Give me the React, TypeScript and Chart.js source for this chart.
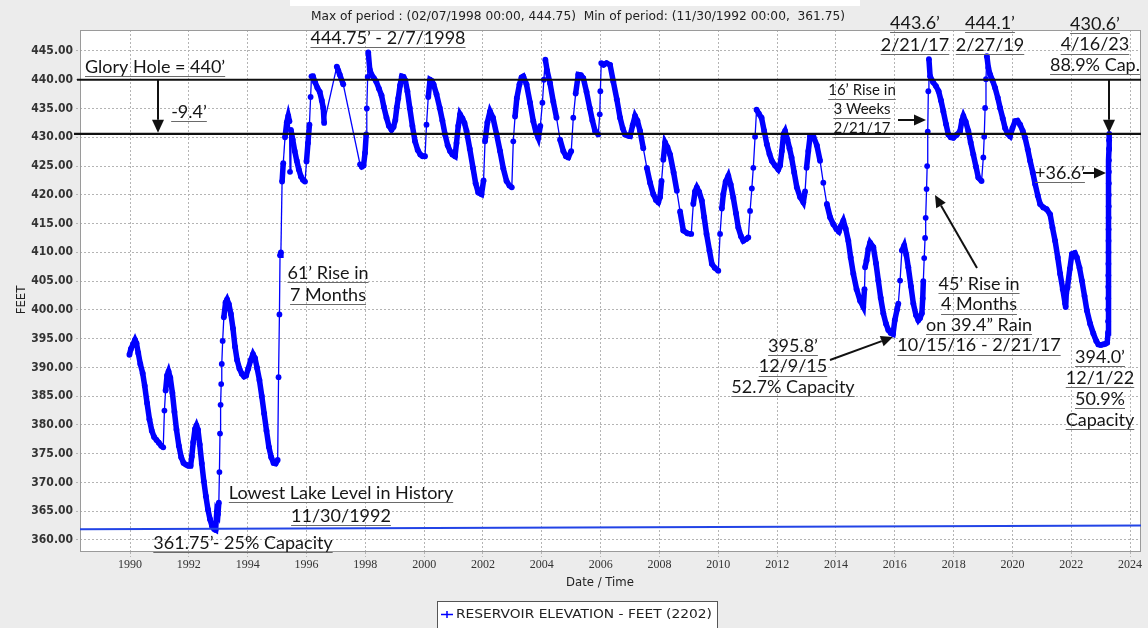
import { useEffect, useRef } from 'react';
import { Chart, registerables } from 'chart.js';

Chart.register(...registerables);

// ---------------- DATA (year as decimal, elevation in feet) ----------------
const elev1990to1994: [number, number][] = [
  [1989.98, 392.2], [1990.03, 393.2], [1990.1, 394.0], [1990.17, 394.8], [1990.22, 394.2], [1990.28, 392.5],
  [1990.35, 390.6], [1990.43, 389.0], [1990.5, 386.8], [1990.58, 383.8], [1990.66, 381.0], [1990.74, 379.0],
  [1990.82, 377.9], [1990.9, 377.4], [1990.98, 376.9], [1991.06, 376.4], [1991.13, 376.1], [1991.17, 382.5],
  [1991.21, 386.0], [1991.26, 388.6], [1991.31, 389.3], [1991.37, 388.2], [1991.44, 385.6], [1991.51, 382.3],
  [1991.58, 379.2], [1991.66, 376.4], [1991.74, 374.4], [1991.82, 373.4], [1991.9, 373.1], [1991.98, 372.9],
  [1992.06, 372.9], [1992.1, 374.5], [1992.15, 377.0], [1992.21, 379.3], [1992.26, 379.9], [1992.31, 379.2],
  [1992.37, 376.6], [1992.44, 373.3], [1992.51, 370.2], [1992.58, 367.6], [1992.65, 365.3], [1992.72, 363.6],
  [1992.79, 362.4], [1992.86, 361.9], [1992.91, 361.75], [1992.95, 364.9], [1992.99, 364.5], [1993.02, 366.5],
  [1993.04, 371.8], [1993.06, 378.5], [1993.08, 383.5], [1993.1, 387.1], [1993.12, 390.6], [1993.15, 394.6],
  [1993.19, 398.7], [1993.25, 401.3], [1993.3, 401.8], [1993.36, 401.0], [1993.43, 399.3], [1993.5, 396.8],
  [1993.57, 393.6], [1993.64, 391.3], [1993.72, 389.8], [1993.8, 388.9], [1993.88, 388.4], [1993.95, 388.6],
  [1994.02, 389.8], [1994.1, 391.2], [1994.18, 392.3], [1994.25, 391.6], [1994.32, 389.9], [1994.4, 387.8],
  [1994.48, 385.0], [1994.56, 382.0], [1994.64, 379.0], [1994.72, 376.2], [1994.8, 374.4], [1994.88, 373.4],
  [1994.95, 373.3], [1995.02, 373.9],
];

const elev1995to1999: [number, number][] = [
  [1995.05, 388.3], [1995.08, 399.2], [1995.1, 409.5], [1995.13, 410.0], [1995.17, 422.3], [1995.21, 425.5],
  [1995.27, 430.0], [1995.33, 432.6], [1995.38, 433.7], [1995.42, 432.8], [1995.44, 424.0], [1995.47, 431.3],
  [1995.53, 429.6], [1995.6, 427.6], [1995.67, 425.9], [1995.74, 424.4], [1995.81, 423.2], [1995.88, 422.6],
  [1995.95, 422.3], [1996.0, 425.8], [1996.05, 429.0], [1996.1, 432.2], [1996.14, 437.0], [1996.17, 440.6],
  [1996.22, 440.6], [1996.29, 439.6], [1996.37, 438.6], [1996.45, 437.9], [1996.52, 436.4], [1996.57, 435.1],
  [1996.6, 432.5], [1997.03, 442.3], [1997.08, 441.6], [1997.13, 440.9], [1997.25, 439.2], [1997.82, 425.3],
  [1997.88, 424.9], [1997.94, 425.1], [1997.99, 427.3], [1998.03, 430.5], [1998.05, 435.0], [1998.08, 440.5],
  [1998.1, 444.75], [1998.15, 441.8], [1998.21, 440.9], [1998.29, 440.3], [1998.37, 439.7], [1998.46, 438.5],
  [1998.55, 437.3], [1998.63, 435.3], [1998.72, 433.4], [1998.8, 432.0], [1998.89, 431.3], [1998.96, 431.8],
  [1999.02, 433.0], [1999.07, 435.2], [1999.12, 436.8], [1999.18, 439.0], [1999.24, 440.6], [1999.3, 440.5],
  [1999.36, 439.9], [1999.43, 438.0], [1999.51, 435.1], [1999.6, 432.0], [1999.69, 429.3], [1999.78, 427.8],
  [1999.87, 427.0], [1999.95, 426.7], [2000.03, 426.7],
];

const elev2000to2004: [number, number][] = [
  [2000.08, 432.2], [2000.14, 437.0], [2000.2, 440.0], [2000.26, 439.8], [2000.32, 439.2], [2000.42, 437.5],
  [2000.53, 435.1], [2000.62, 432.9], [2000.71, 430.5], [2000.8, 428.6], [2000.88, 427.6], [2000.96, 427.0],
  [2001.05, 426.7], [2001.1, 429.0], [2001.16, 432.0], [2001.22, 434.0], [2001.3, 433.3], [2001.37, 432.5],
  [2001.44, 431.1], [2001.55, 428.0], [2001.66, 424.7], [2001.75, 422.0], [2001.84, 420.4], [2001.95, 420.1],
  [2002.02, 422.5], [2002.07, 429.3], [2002.15, 432.6], [2002.24, 434.5], [2002.34, 433.4], [2002.46, 430.6],
  [2002.58, 427.6], [2002.69, 424.6], [2002.8, 422.4], [2002.9, 421.6], [2002.98, 421.3], [2003.03, 429.3],
  [2003.09, 433.6], [2003.15, 436.8], [2003.24, 439.2], [2003.31, 440.4], [2003.37, 440.6], [2003.48, 439.2],
  [2003.6, 436.0], [2003.71, 432.8], [2003.8, 430.9], [2003.88, 429.9], [2003.95, 432.0], [2004.02, 436.0],
  [2004.07, 440.0], [2004.12, 443.5], [2004.18, 441.6], [2004.28, 439.4], [2004.39, 436.2], [2004.5, 433.4],
  [2004.62, 429.6], [2004.73, 427.6], [2004.82, 426.7], [2004.9, 426.5], [2005.0, 427.6],
];

const elev2005to2009: [number, number][] = [
  [2005.07, 433.4], [2005.15, 437.6], [2005.24, 440.9], [2005.33, 440.8], [2005.41, 440.3], [2005.52, 437.9],
  [2005.63, 435.1], [2005.72, 432.9], [2005.81, 431.1], [2005.92, 430.5], [2005.97, 434.0], [2005.99, 438.0],
  [2006.02, 442.9], [2006.1, 442.6], [2006.2, 442.9], [2006.32, 442.6], [2006.43, 439.7], [2006.55, 436.6],
  [2006.66, 433.4], [2006.75, 431.6], [2006.83, 430.5], [2006.92, 430.3], [2007.0, 430.2], [2007.09, 432.1],
  [2007.17, 433.7], [2007.25, 432.9], [2007.34, 431.1], [2007.45, 428.1], [2007.57, 424.7], [2007.68, 422.1],
  [2007.79, 420.1], [2007.88, 419.1], [2007.96, 418.7], [2008.02, 419.6], [2008.07, 422.4], [2008.13, 426.1],
  [2008.19, 429.1], [2008.27, 428.3], [2008.36, 427.0], [2008.48, 423.9], [2008.59, 420.7], [2008.7, 417.1],
  [2008.81, 413.8], [2008.95, 413.3], [2009.08, 413.2], [2009.15, 418.4], [2009.21, 420.6], [2009.27, 421.3],
  [2009.35, 420.5], [2009.44, 419.0], [2009.52, 416.1], [2009.6, 413.2], [2009.7, 410.3], [2009.78, 408.0],
  [2009.88, 407.3], [2010.0, 406.8],
];

const elev2010to2014: [number, number][] = [
  [2010.06, 413.2], [2010.12, 417.6], [2010.17, 420.1], [2010.25, 422.3], [2010.34, 423.3], [2010.42, 421.8],
  [2010.51, 419.5], [2010.6, 416.8], [2010.68, 414.3], [2010.77, 412.8], [2010.85, 412.0], [2010.95, 412.3],
  [2011.02, 412.6], [2011.08, 417.2], [2011.14, 421.1], [2011.19, 424.7], [2011.25, 430.1], [2011.3, 434.8],
  [2011.38, 434.1], [2011.47, 433.4], [2011.56, 431.1], [2011.65, 428.8], [2011.74, 427.1], [2011.82, 425.9],
  [2011.93, 425.1], [2012.04, 424.4], [2012.1, 425.1], [2012.16, 427.6], [2012.22, 430.6], [2012.27, 431.1],
  [2012.35, 429.6], [2012.42, 428.1], [2012.49, 426.5], [2012.58, 423.9], [2012.67, 421.3], [2012.78, 419.6],
  [2012.89, 418.7], [2012.95, 420.6], [2013.0, 424.7], [2013.06, 427.6], [2013.12, 430.2], [2013.23, 430.2],
  [2013.35, 428.6], [2013.46, 425.9], [2013.57, 422.1], [2013.69, 418.4], [2013.8, 416.1], [2013.91, 414.9],
  [2014.02, 414.0], [2014.1, 413.6], [2014.17, 414.6], [2014.25, 415.5], [2014.33, 414.1], [2014.42, 412.0],
  [2014.5, 409.1], [2014.59, 406.3], [2014.7, 403.6], [2014.82, 401.6], [2014.93, 400.5],
];

const elev2015to2019: [number, number][] = [
  [2014.97, 403.6], [2014.99, 407.4], [2015.04, 408.6], [2015.1, 410.6], [2015.16, 411.7], [2015.27, 410.9],
  [2015.36, 408.1], [2015.44, 405.1], [2015.52, 402.1], [2015.61, 399.4], [2015.7, 397.6], [2015.78, 396.5],
  [2015.86, 396.0], [2015.94, 395.8], [2016.0, 398.2], [2016.08, 400.1], [2016.12, 401.1], [2016.18, 405.1],
  [2016.24, 410.3], [2016.32, 411.2], [2016.39, 409.6], [2016.46, 407.4], [2016.55, 404.1], [2016.63, 401.1],
  [2016.72, 399.1], [2016.8, 398.2], [2016.86, 398.6], [2016.92, 399.4], [2016.95, 402.0], [2016.97, 405.0],
  [2017.0, 409.0], [2017.03, 412.5], [2017.05, 416.0], [2017.08, 421.0], [2017.1, 425.0], [2017.12, 431.0],
  [2017.14, 438.0], [2017.16, 443.6], [2017.2, 440.6], [2017.3, 439.6], [2017.4, 438.9], [2017.49, 438.0],
  [2017.57, 436.4], [2017.65, 434.5], [2017.74, 432.3], [2017.82, 430.5], [2017.9, 430.0], [2017.99, 429.9],
  [2018.1, 430.4], [2018.22, 431.1], [2018.28, 432.9], [2018.33, 433.7], [2018.41, 432.7], [2018.5, 431.1],
  [2018.58, 429.1], [2018.67, 427.0], [2018.76, 424.9], [2018.84, 423.0], [2018.95, 422.4], [2019.01, 426.5],
  [2019.04, 430.1], [2019.07, 435.1], [2019.1, 440.1], [2019.13, 444.1], [2019.18, 442.1], [2019.24, 440.9],
  [2019.32, 439.9], [2019.41, 438.6], [2019.5, 436.9], [2019.58, 435.1], [2019.67, 433.3], [2019.75, 431.6],
  [2019.84, 430.6], [2019.92, 430.2],
];

const elev2020to2023: [number, number][] = [
  [2020.0, 431.6], [2020.09, 432.8], [2020.17, 432.9], [2020.26, 432.2], [2020.35, 431.1], [2020.43, 429.9],
  [2020.52, 427.9], [2020.6, 425.9], [2020.69, 423.9], [2020.77, 421.9], [2020.86, 419.9], [2020.94, 418.4],
  [2021.05, 417.8], [2021.16, 417.5], [2021.28, 416.6], [2021.36, 414.3], [2021.45, 412.0], [2021.54, 409.1],
  [2021.62, 406.3], [2021.71, 403.6], [2021.79, 401.1], [2021.81, 400.5], [2021.83, 402.9], [2021.87, 403.9],
  [2021.95, 407.1], [2022.02, 409.7], [2022.12, 409.9], [2022.19, 409.1], [2022.28, 407.3], [2022.36, 405.1],
  [2022.45, 402.4], [2022.53, 399.9], [2022.64, 397.6], [2022.75, 395.9], [2022.85, 394.6], [2022.92, 394.0],
  [2023.0, 393.9], [2023.08, 394.0], [2023.16, 394.1], [2023.22, 394.3], [2023.25, 396.0], [2023.252, 398.0],
  [2023.254, 400.0], [2023.256, 402.0], [2023.258, 404.0], [2023.26, 406.0], [2023.262, 408.0], [2023.264, 410.0],
  [2023.266, 412.0], [2023.268, 414.0], [2023.27, 416.0], [2023.272, 418.0], [2023.274, 420.0], [2023.276, 422.0],
  [2023.278, 424.0], [2023.28, 426.0], [2023.283, 428.0], [2023.286, 429.5], [2023.29, 430.6],
];

const xTickYears = [1990, 1992, 1994, 1996, 1998, 2000, 2002, 2004, 2006, 2008, 2010, 2012, 2014, 2016, 2018, 2020, 2022, 2024];
const yTickFeet = [360, 365, 370, 375, 380, 385, 390, 395, 400, 405, 410, 415, 420, 425, 430, 435, 440, 445];

const gloryHole = 440;
const currentLevel = 430.6;
const minStart = 361.85;
const minEnd = 362.5;

const titleText = 'Max of period : (02/07/1998 00:00, 444.75)  Min of period: (11/30/1992 00:00,  361.75)';
const legendText = 'RESERVOIR ELEVATION - FEET (2202)';

// ---------------- STYLE / LAYOUT ----------------
const W = 1148;
const H = 628;
const BLUE = '#0000ff';
const ANN = '18px Lato';
const ANN_SMALL = '15px Lato';

type Note = { lines: string[]; x: number; y: number; lh?: number; align?: CanvasTextAlign; font?: string };
const notes: Note[] = [
  { lines: ['444.75’ - 2/7/1998'], x: 388, y: 38 },
  { lines: ['Glory Hole = 440’'], x: 85, y: 67, align: 'left' },
  { lines: ['-9.4’'], x: 189, y: 112 },
  { lines: ['61’ Rise in', '7 Months'], x: 328, y: 273, lh: 22 },
  { lines: ['Lowest Lake Level in History', '11/30/1992'], x: 341, y: 493, lh: 23 },
  { lines: ['361.75’- 25% Capacity'], x: 243, y: 543 },
  { lines: ['16’ Rise in', '3 Weeks', '2/21/17'], x: 862, y: 90, lh: 19, font: ANN_SMALL },
  { lines: ['443.6’', '2/21/17'], x: 915, y: 23, lh: 22 },
  { lines: ['444.1’', '2/27/19'], x: 990, y: 23, lh: 22 },
  { lines: ['430.6’', '4/16/23', '88.9% Cap.'], x: 1095, y: 24, lh: 20.5 },
  { lines: ['+36.6’'], x: 1060, y: 173 },
  { lines: ['45’ Rise in', '4 Months', 'on 39.4” Rain', '10/15/16 - 2/21/17'], x: 979, y: 284, lh: 20.5 },
  { lines: ['395.8’', '12/9/15', '52.7% Capacity'], x: 793, y: 346, lh: 20.5 },
  { lines: ['394.0’', '12/1/22', '50.9%', 'Capacity'], x: 1100, y: 357, lh: 21 },
];

const arrows: [number, number, number, number][] = [
  [898, 120, 926, 120],
  [1083, 173, 1106, 173],
  [977, 268, 935, 195],
  [830, 360, 893, 337],
];

function drawArrow(ctx: CanvasRenderingContext2D, x1: number, y1: number, x2: number, y2: number, head = 12, hw = 5.5) {
  const a = Math.atan2(y2 - y1, x2 - x1);
  const bx = x2 - head * Math.cos(a);
  const by = y2 - head * Math.sin(a);
  ctx.beginPath();
  ctx.moveTo(x1, y1);
  ctx.lineTo(bx, by);
  ctx.stroke();
  ctx.beginPath();
  ctx.moveTo(x2, y2);
  ctx.lineTo(bx + hw * Math.sin(a), by - hw * Math.cos(a));
  ctx.lineTo(bx - hw * Math.sin(a), by + hw * Math.cos(a));
  ctx.closePath();
  ctx.fill();
}

function drawNote(ctx: CanvasRenderingContext2D, n: Note) {
  ctx.font = n.font || ANN;
  ctx.textBaseline = 'middle';
  const align = n.align || 'center';
  ctx.textAlign = align;
  n.lines.forEach((t, i) => {
    const y = n.y + i * (n.lh || 22);
    ctx.fillStyle = '#161616';
    ctx.fillText(t, n.x, y);
    const w = ctx.measureText(t).width;
    const x0 = align === 'center' ? n.x - w / 2 : align === 'left' ? n.x : n.x - w;
    ctx.strokeStyle = '#6a6a6a';
    ctx.lineWidth = 1;
    ctx.beginPath();
    ctx.moveTo(x0, Math.round(y + 9) + 0.5);
    ctx.lineTo(x0 + w, Math.round(y + 9) + 0.5);
    ctx.stroke();
  });
}

function fitText(ctx: CanvasRenderingContext2D, text: string, cx: number, cy: number, width: number, font: string) {
  ctx.save();
  ctx.font = font;
  ctx.textAlign = 'center';
  ctx.textBaseline = 'middle';
  const m = ctx.measureText(text).width;
  const s = width / m;
  ctx.translate(cx, cy);
  ctx.scale(s, 1);
  ctx.fillText(text, 0, 0);
  ctx.restore();
}

const bgPlugin = {
  id: 'bgPlugin',
  beforeDraw(chart: any) {
    const { ctx, chartArea: a } = chart;
    ctx.save();
    ctx.fillStyle = '#ececec';
    ctx.fillRect(0, 0, W, H);
    ctx.fillStyle = '#ffffff';
    ctx.fillRect(290, 0, 570, 6);
    ctx.fillRect(a.left, a.top, a.right - a.left, a.bottom - a.top);
    ctx.restore();
  },
  beforeDatasetsDraw(chart: any) {
    const { ctx, chartArea: a } = chart;
    ctx.save();
    ctx.strokeStyle = '#9a9a9a';
    ctx.lineWidth = 1;
    ctx.strokeRect(a.left + 0.5, a.top + 0.5, a.right - a.left - 1, a.bottom - a.top - 1);
    ctx.restore();
  },
  afterDatasetsDraw(chart: any) {
    const { ctx, chartArea: a, scales } = chart;
    const ys = scales.y;
    ctx.save();
    // min-of-period line
    ctx.strokeStyle = '#2244e6';
    ctx.lineWidth = 2;
    ctx.beginPath();
    ctx.moveTo(a.left, ys.getPixelForValue(minStart));
    ctx.lineTo(a.right, ys.getPixelForValue(minEnd));
    ctx.stroke();
    // black reference lines
    ctx.strokeStyle = '#111';
    ctx.lineWidth = 2.2;
    const yG = ys.getPixelForValue(gloryHole);
    const yC = ys.getPixelForValue(currentLevel);
    ctx.beginPath();
    ctx.moveTo(a.left - 3, yG);
    ctx.lineTo(a.right, yG);
    ctx.moveTo(a.left - 6, yC);
    ctx.lineTo(a.right, yC);
    ctx.stroke();
    // arrows
    ctx.fillStyle = '#111';
    ctx.lineWidth = 2;
    drawArrow(ctx, 158, yG, 158, yC - 1, 13, 6);
    drawArrow(ctx, 1109, yG, 1109, yC - 1, 13, 6);
    arrows.forEach(([x1, y1, x2, y2]) => drawArrow(ctx, x1, y1, x2, y2, 12, 5.5));
    notes.forEach((n) => drawNote(ctx, n));
    ctx.restore();
  },
  afterDraw(chart: any) {
    const { ctx } = chart;
    ctx.save();
    ctx.fillStyle = '#222';
    fitText(ctx, titleText, 578, 17, 534, '12px "DejaVu Sans Condensed"');
    ctx.font = '13px "DejaVu Sans Condensed"';
    ctx.textAlign = 'center';
    ctx.textBaseline = 'middle';
    ctx.fillText('Date / Time', 600, 583);
    ctx.save();
    ctx.translate(22, 300);
    ctx.rotate(-Math.PI / 2);
    ctx.fillText('FEET', 0, 0);
    ctx.restore();
    // legend
    ctx.fillStyle = '#ffffff';
    ctx.fillRect(437, 601, 281, 30);
    ctx.strokeStyle = '#555';
    ctx.lineWidth = 1;
    ctx.strokeRect(437.5, 601.5, 280, 30);
    ctx.strokeStyle = BLUE;
    ctx.lineWidth = 1.5;
    ctx.beginPath();
    ctx.moveTo(441, 614.5);
    ctx.lineTo(453, 614.5);
    ctx.moveTo(447, 611);
    ctx.lineTo(447, 618);
    ctx.stroke();
    ctx.fillStyle = '#222';
    ctx.textAlign = 'left';
    ctx.font = '12.5px "DejaVu Sans Condensed"';
    const lw = ctx.measureText(legendText).width;
    ctx.save();
    ctx.translate(456, 614.5);
    ctx.scale(256 / lw, 1);
    ctx.fillText(legendText, 0, 0);
    ctx.restore();
    ctx.restore();
  },
};

export default function App() {
  const ref = useRef<HTMLCanvasElement>(null);
  useEffect(() => {
    const canvas = ref.current;
    if (!canvas) return;
    const series = [
      ...elev1990to1994, ...elev1995to1999, ...elev2000to2004, ...elev2005to2009,
      ...elev2010to2014, ...elev2015to2019, ...elev2020to2023,
    ];
    const points = series.map(([x, y]) => ({ x, y }));
    const chart = new Chart(canvas, {
      type: 'line',
      data: {
        datasets: [
          {
            label: legendText,
            data: points,
            borderColor: BLUE,
            backgroundColor: BLUE,
            borderWidth: 5.5,
            pointRadius: 2.9,
            pointBorderWidth: 0,
            pointBackgroundColor: BLUE,
            pointHoverRadius: 2.9,
            tension: 0,
            segment: {
              borderWidth: (c: any) => {
                const a = series[c.p0DataIndex];
                const b = series[c.p1DataIndex];
                if (!a || !b) return 5.5;
                const dt = b[0] - a[0];
                const dy = Math.abs(c.p1.y - c.p0.y);
                return dt > 0.16 || dy > 19 ? 1.3 : 5.5;
              },
            },
          },
        ],
      },
      options: {
        responsive: false,
        animation: false,
        devicePixelRatio: 1,
        events: [],
        layout: { padding: { top: 30, right: 7, left: 0, bottom: 0 } },
        plugins: { legend: { display: false }, title: { display: false }, tooltip: { enabled: false } },
        scales: {
          x: {
            type: 'linear',
            min: 1988.3,
            max: 2024.37,
            afterBuildTicks: (s: any) => {
              s.ticks = xTickYears.map((v) => ({ value: v }));
            },
            afterFit: (s: any) => {
              s.height = 76;
            },
            ticks: {
              autoSkip: false,
              maxRotation: 0,
              padding: 1,
              color: '#333',
              font: { family: '"Liberation Sans Narrow"', size: 12 },
              callback: (v: any) => String(v),
            },
            grid: { color: '#b4b4b4', lineWidth: 1, tickLength: 5, tickBorderDash: [2, 2] },
            border: { display: false, dash: [2, 2] },
          },
          y: {
            type: 'linear',
            min: 357.91,
            max: 448.65,
            afterBuildTicks: (s: any) => {
              s.ticks = yTickFeet.map((v) => ({ value: v }));
            },
            afterFit: (s: any) => {
              s.width = 80;
            },
            ticks: {
              padding: 3,
              color: '#333',
              font: { family: '"DejaVu Sans Condensed"', size: 12, weight: 'bold' },
              callback: (v: any) => Number(v).toFixed(2),
            },
            grid: { color: '#b4b4b4', lineWidth: 1, tickLength: 4, tickBorderDash: [2, 2] },
            border: { display: false, dash: [2, 2] },
          },
        },
      },
      plugins: [bgPlugin],
    } as any);
    return () => chart.destroy();
  }, []);
  return (
    <div style={{ position: 'absolute', left: 0, top: 0, width: W, height: H }}>
      <canvas ref={ref} width={W} height={H} style={{ display: 'block', width: W, height: H }} />
    </div>
  );
}
